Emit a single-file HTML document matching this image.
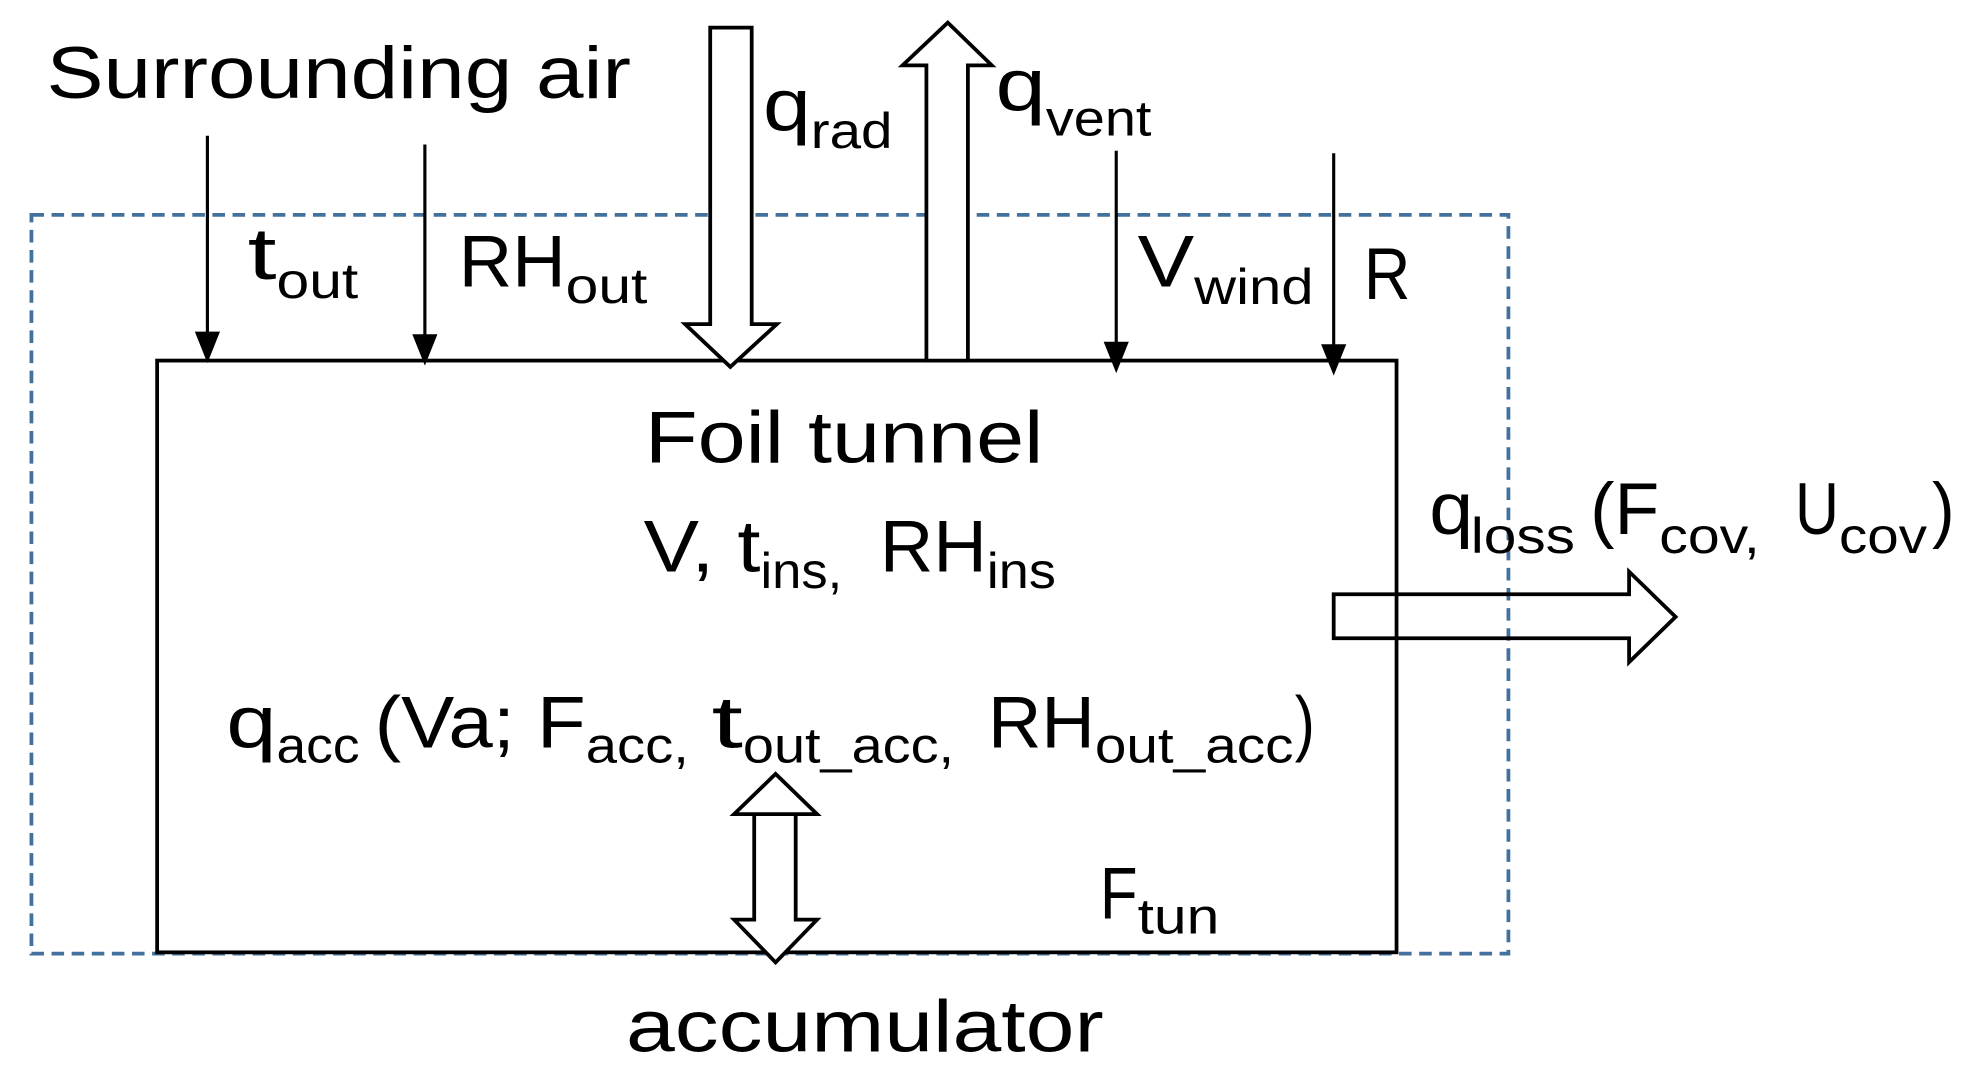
<!DOCTYPE html>
<html><head><style>html,body{margin:0;padding:0;background:#fff}svg{display:block}</style></head>
<body>
<svg width="1971" height="1083" viewBox="0 0 1568 862" preserveAspectRatio="none" xmlns="http://www.w3.org/2000/svg" font-family="Liberation Sans, sans-serif" fill="#000">
<rect x="25" y="171" width="1175" height="588" fill="none" stroke="#41719C" stroke-width="3" stroke-dasharray="10 6"/>
<rect x="125" y="287" width="986" height="471" fill="none" stroke="#000" stroke-width="3"/>
<g stroke="#000" stroke-width="2.5">
<line x1="165" y1="108" x2="165" y2="270"/><line x1="338" y1="115" x2="338" y2="272"/>
<line x1="888" y1="120" x2="888" y2="278"/><line x1="1061" y1="122" x2="1061" y2="280"/>
</g>
<polygon points="155,264 175,264 165,289"/><polygon points="328,266 348,266 338,291"/>
<polygon points="878,272 898,272 888,297"/><polygon points="1051,274 1071,274 1061,299"/>
<g fill="#fff" stroke="#000" stroke-width="3" stroke-linejoin="miter">
<polygon points="565,22 598,22 598,258 618,258 581,292 545,258 565,258"/>
<polygon points="737,287 770,287 770,52 789,52 754,18 718,52 737,52"/>
<polygon points="600,648 633,648 633,732 650,732 617,766 584,732 600,732 600,648 584,648 617,616 650,648 633,648"/>
<polygon fill="none" points="1061,473 1296,473 1296,455 1333,491 1296,527 1296,508 1061,508"/>
</g>
<g font-size="58">
<text x="37" y="78" textLength="465" lengthAdjust="spacingAndGlyphs">Surrounding air</text>
<text x="197" y="222" textLength="23" lengthAdjust="spacingAndGlyphs">t</text>
<text x="365" y="228" textLength="85" lengthAdjust="spacingAndGlyphs">RH</text>
<text x="607" y="104" textLength="38" lengthAdjust="spacingAndGlyphs">q</text>
<text x="792" y="88" textLength="40" lengthAdjust="spacingAndGlyphs">q</text>
<text x="905" y="228" textLength="45" lengthAdjust="spacingAndGlyphs">V</text>
<text x="1085" y="238" textLength="37" lengthAdjust="spacingAndGlyphs">R</text>
<text x="513" y="368" textLength="317" lengthAdjust="spacingAndGlyphs">Foil tunnel</text>
<text x="512" y="455" textLength="93" lengthAdjust="spacingAndGlyphs">V, t</text>
<text x="700" y="455" textLength="85" lengthAdjust="spacingAndGlyphs">RH</text>
<text x="180" y="595" textLength="40" lengthAdjust="spacingAndGlyphs">q</text>
<text x="298" y="595" textLength="168" lengthAdjust="spacingAndGlyphs">(Va; F</text>
<text x="566" y="595" textLength="25" lengthAdjust="spacingAndGlyphs">t</text>
<text x="786" y="595" textLength="85" lengthAdjust="spacingAndGlyphs">RH</text>
<text x="1030" y="595" textLength="16" lengthAdjust="spacingAndGlyphs">)</text>
<text x="875" y="731" textLength="30" lengthAdjust="spacingAndGlyphs">F</text>
<text x="498" y="837" textLength="380" lengthAdjust="spacingAndGlyphs">accumulator</text>
<text x="1137" y="425" textLength="35" lengthAdjust="spacingAndGlyphs">q</text>
<text x="1265" y="425" textLength="55" lengthAdjust="spacingAndGlyphs">(F</text>
<text x="1428" y="425" textLength="35" lengthAdjust="spacingAndGlyphs">U</text>
<text x="1537" y="425" textLength="18" lengthAdjust="spacingAndGlyphs">)</text>
</g>
<g font-size="40">
<text x="220" y="237" textLength="65" lengthAdjust="spacingAndGlyphs">out</text>
<text x="450" y="241" textLength="65" lengthAdjust="spacingAndGlyphs">out</text>
<text x="645" y="118" textLength="65" lengthAdjust="spacingAndGlyphs">rad</text>
<text x="832" y="108" textLength="84" lengthAdjust="spacingAndGlyphs">vent</text>
<text x="950" y="242" textLength="95" lengthAdjust="spacingAndGlyphs">wind</text>
<text x="605" y="468" textLength="65" lengthAdjust="spacingAndGlyphs">ins,</text>
<text x="785" y="468" textLength="55" lengthAdjust="spacingAndGlyphs">ins</text>
<text x="220" y="607" textLength="66" lengthAdjust="spacingAndGlyphs">acc</text>
<text x="466" y="607" textLength="82" lengthAdjust="spacingAndGlyphs">acc,</text>
<text x="591" y="607" textLength="168" lengthAdjust="spacingAndGlyphs">out_acc,</text>
<text x="871" y="607" textLength="158" lengthAdjust="spacingAndGlyphs">out_acc</text>
<text x="905" y="743" textLength="65" lengthAdjust="spacingAndGlyphs">tun</text>
<text x="1170" y="440" textLength="83" lengthAdjust="spacingAndGlyphs">loss</text>
<text x="1320" y="440" textLength="80" lengthAdjust="spacingAndGlyphs">cov,</text>
<text x="1463" y="440" textLength="70" lengthAdjust="spacingAndGlyphs">cov</text>
</g>
</svg>
</body></html>
